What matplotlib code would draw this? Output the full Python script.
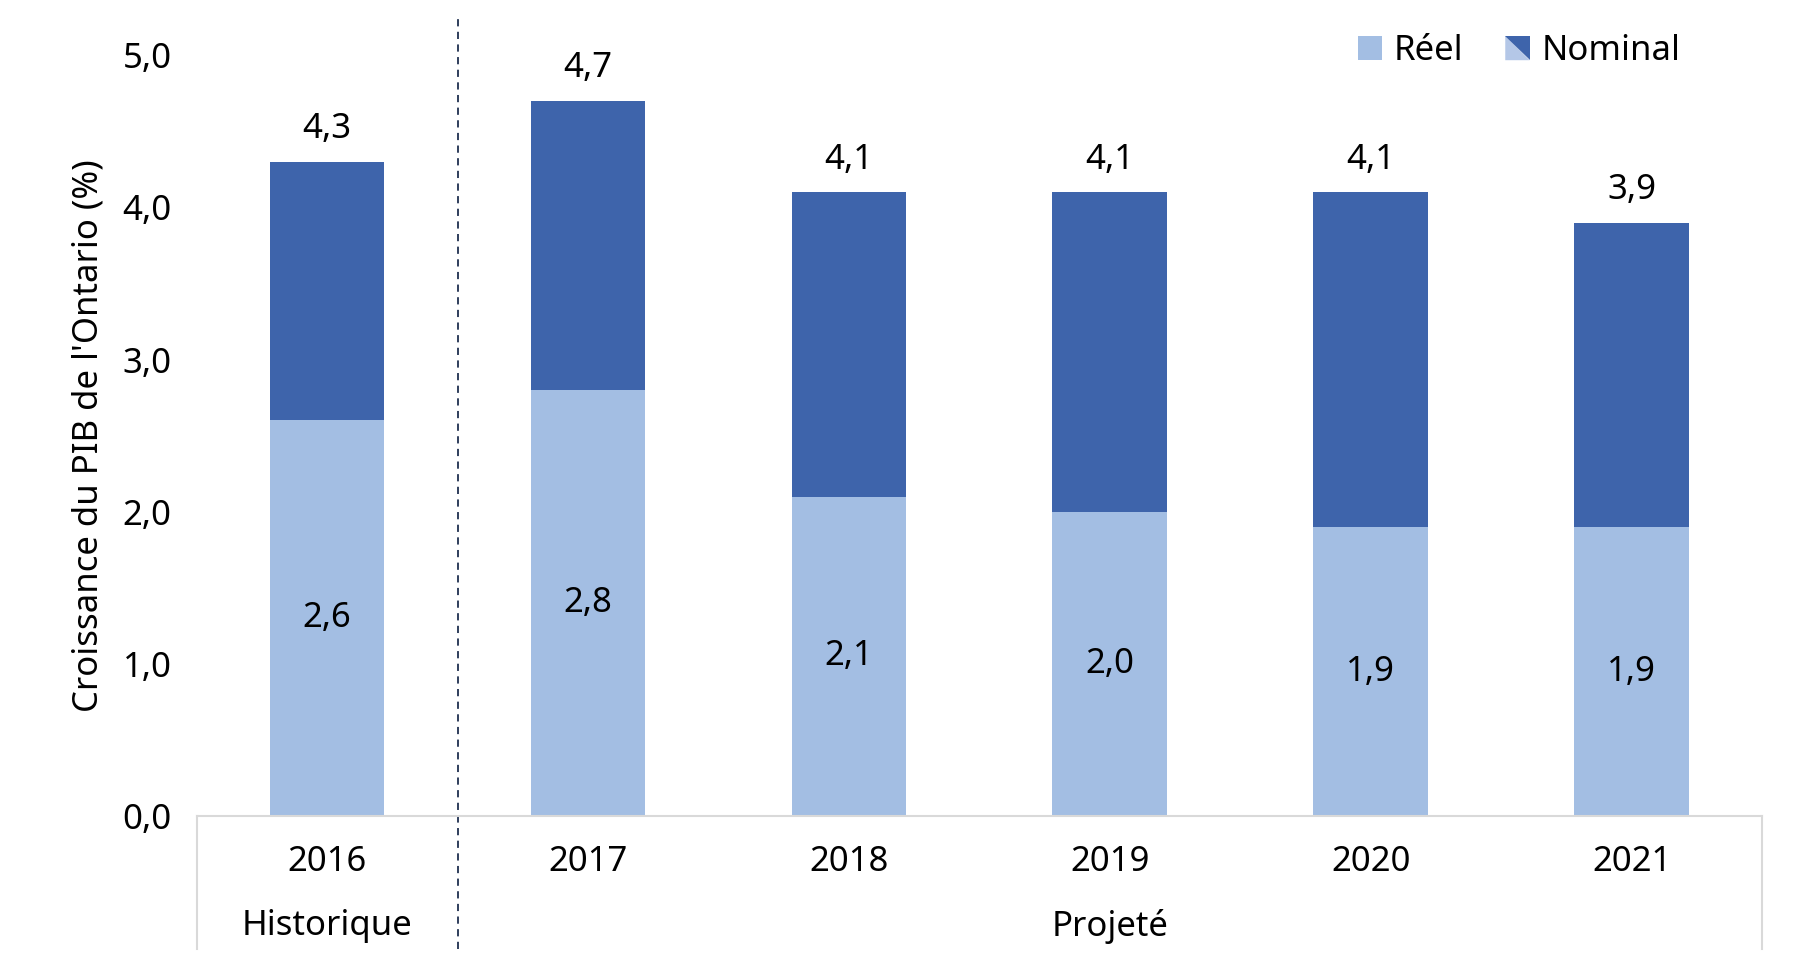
import matplotlib.pyplot as plt
from matplotlib.patches import Polygon
from matplotlib.legend_handler import HandlerBase

plt.rcParams['font.family'] = ['Noto Sans', 'DejaVu Sans']

annees = ["2016", "2017", "2018", "2019", "2020", "2021"]
reel = [2.6, 2.8, 2.1, 2.0, 1.9, 1.9]
nominal = [4.3, 4.7, 4.1, 4.1, 4.1, 3.9]
groupes = ["Historique", "Projeté"]

clair = "#A3BEE3"
fonce = "#3E64AB"


class HandlerDiag(HandlerBase):
    # carré coupé en diagonale comme dans Excel
    def create_artists(self, legend, orig, x0, y0, w, h, fontsize, trans):
        s = h * 1.0
        x = x0 + (w - s) / 2
        bas = Polygon([[x, y0], [x + s, y0], [x, y0 + s]], closed=True,
                      facecolor="#B4C7E7", edgecolor="none", transform=trans)
        haut = Polygon([[x + s, y0], [x + s, y0 + s], [x, y0 + s]], closed=True,
                       facecolor=fonce, edgecolor="none", transform=trans)
        return [bas, haut]


class HandlerCarre(HandlerBase):
    def create_artists(self, legend, orig, x0, y0, w, h, fontsize, trans):
        s = h * 1.0
        x = x0 + (w - s) / 2
        p = Polygon([[x, y0], [x + s, y0], [x + s, y0 + s], [x, y0 + s]], closed=True,
                    facecolor=clair, edgecolor="none", transform=trans)
        return [p]


fig = plt.figure(figsize=(18.14, 9.72), dpi=100)
ax = fig.add_axes([0.1084, 0.1601, 0.863, 0.7833])

x = list(range(len(annees)))
haut = [n - r for n, r in zip(nominal, reel)]
b1 = ax.bar(x, reel, width=0.44, color=clair, label="Réel")
b2 = ax.bar(x, haut, width=0.44, bottom=reel, color=fonce, label="Nominal")

fs = 25
for i in x:
    ax.text(i, reel[i] / 2, f"{reel[i]:.1f}".replace(".", ","), ha="center", va="center", fontsize=fs)
    ax.text(i, nominal[i] + 0.1, f"{nominal[i]:.1f}".replace(".", ","), ha="center", va="bottom", fontsize=fs)

ax.set_xlim(-0.5, 5.5)
ax.set_ylim(0, 5)
ax.set_yticks([0, 1, 2, 3, 4, 5])
ax.set_yticklabels([f"{v:.1f}".replace(".", ",") for v in [0, 1, 2, 3, 4, 5]], fontsize=fs)
ax.set_xticks([])
ax.tick_params(axis="y", length=0, pad=18)
for s in ["top", "right", "left"]:
    ax.spines[s].set_visible(False)
ax.spines["bottom"].set_color("#D9D9D9")
ax.spines["bottom"].set_linewidth(1.5)

ax.set_ylabel("Croissance du PIB de l'Ontario (%)", fontsize=fs, labelpad=12)

# zone des catégories sous l'axe
for i in x:
    ax.text(i, -0.30, annees[i], ha="center", va="center", fontsize=fs)
ax.text(0, -0.72, groupes[0], ha="center", va="center", fontsize=fs)
ax.text(3, -0.72, groupes[1], ha="center", va="center", fontsize=fs)
ax.plot([-0.5, -0.5], [0, -0.87], color="#D9D9D9", lw=1.5, clip_on=False)
ax.plot([5.5, 5.5], [0, -0.87], color="#D9D9D9", lw=1.5, clip_on=False)
ax.plot([0.5, 0.5], [-0.87, 5.24], color="#1F2F4F", lw=1.3, ls=(0, (4, 3)), clip_on=False)

ax.legend([b1, b2], ["Réel", "Nominal"], handler_map={b1: HandlerCarre(), b2: HandlerDiag()},
          loc="center right", bbox_to_anchor=(0.948, 1.005), ncol=2, frameon=False, fontsize=fs,
          borderaxespad=0, borderpad=0,
          handlelength=0.7, handleheight=0.7, handletextpad=0.35, columnspacing=1.2)

fig.savefig("out.png", dpi=100)
